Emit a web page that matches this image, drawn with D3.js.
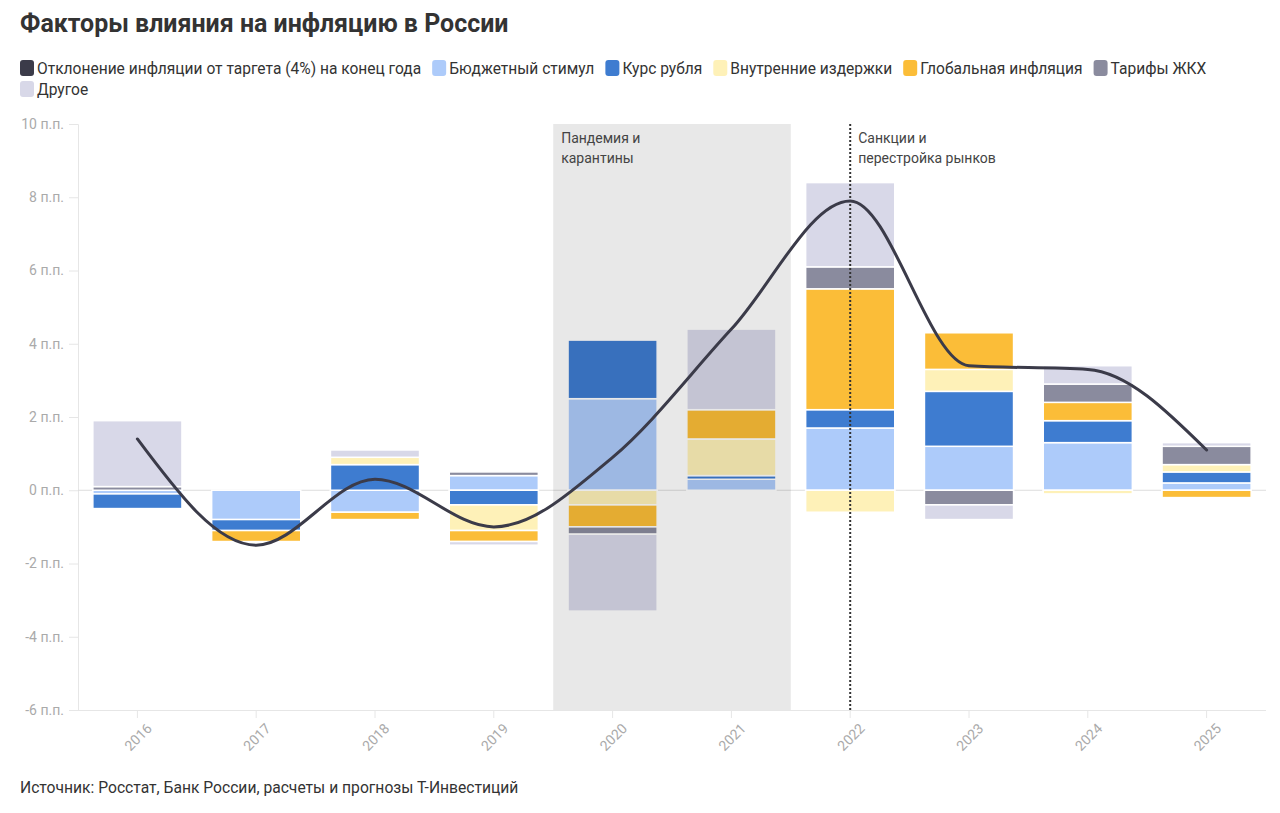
<!DOCTYPE html>
<html><head><meta charset="utf-8">
<script src="https://cdn.jsdelivr.net/npm/d3@7"></script>
<style>
body{margin:0;background:#fff;}
svg{display:block;font-family:Roboto, "Noto Sans", sans-serif;}
</style></head>
<body><svg id="c" width="1280" height="813"></svg>
<script>
const years = ['2016','2017','2018','2019','2020','2021','2022','2023','2024','2025'];
const deviation = [1.4,-1.5,0.3,-1.0,0.9,4.4,7.9,3.4,3.3,1.1];
const budget    = [-0.1,-0.8,-0.6,0.4,2.5,0.3,1.7,1.2,1.3,0.2];
const rub       = [-0.4,-0.3,0.7,-0.4,1.6,0.1,0.5,1.5,0.6,0.3];
const domestic  = [0,0,0.2,-0.7,-0.4,1.0,-0.6,0.6,-0.1,0.2];
const globalInf = [0,-0.3,-0.2,-0.3,-0.6,0.8,3.3,1.0,0.5,-0.2];
const utilities = [0.1,0,0,0.1,-0.2,0,0.6,-0.4,0.5,0.5];
const other     = [1.8,0,0.2,-0.1,-2.1,2.2,2.3,-0.4,0.5,0.1];
const yTicks = [-6,-4,-2,0,2,4,6,8,10];
const seriesNames = ['Бюджетный стимул','Курс рубля','Внутренние издержки','Глобальная инфляция','Тарифы ЖКХ','Другое'];
const seriesColors = ['#adcbfa','#3e7cd0','#fef1b8','#fbbd38','#8a8b9e','#d8d8e8'];
const lineName = 'Отклонение инфляции от таргета (4%) на конец года';
const lineColor = '#3b3b49';
const title = 'Факторы влияния на инфляцию в России';
const source = 'Источник: Росстат, Банк России, расчеты и прогнозы Т-Инвестиций';
const shadeLabel = ['Пандемия и','карантины'];
const shadeYears = ['2020','2021'];
const markLabel = ['Санкции и','перестройка рынков'];
const markYear = '2022';

const seriesValues = [budget, rub, domestic, globalInf, utilities, other];
const table = years.map((y,i)=>{const o={year:y}; seriesNames.forEach((n,j)=>o[n]=seriesValues[j][i]); return o;});

const svg = d3.select('#c');
const L=78,R=1266,T=124,B=710;
const x = d3.scaleBand().domain(years).range([L,R]).paddingInner(0.25).paddingOuter(0.125);
const y = d3.scaleLinear().domain([-6,10]).range([B,T]);

function condense(sel, f){
  const w = sel.node().getComputedTextLength();
  sel.attr('textLength', w*f).attr('lengthAdjust','spacingAndGlyphs');
  return w*f;
}

// title
const tt = svg.append('text').attr('x',20).attr('y',32).attr('font-size',26).attr('font-weight',700).attr('fill','#333').text(title);
condense(tt,0.96);

// legend
const legendItems = [{name:lineName,color:lineColor}].concat(seriesNames.map((n,i)=>({name:n,color:seriesColors[i]})));
let lx=20, ly=60;
const lg = svg.append('g');
legendItems.forEach(it=>{
  const g = lg.append('g');
  const t = g.append('text').attr('font-size',16).attr('fill','#333').text(it.name);
  const w = condense(t,0.972);
  if (lx + 17 + w > 1260) { lx = 20; ly += 21; }
  g.append('rect').attr('x',lx).attr('y',ly).attr('width',14).attr('height',16).attr('rx',3).attr('fill',it.color);
  t.attr('x',lx+17).attr('y',ly+14);
  lx += 17 + w + 11;
});

// axes
const yAxisG = svg.append('g').attr('transform',`translate(${L},0)`)
  .call(d3.axisLeft(y).tickValues(yTicks).tickSize(9).tickPadding(5).tickFormat(d=>d+' п.п.'));
yAxisG.select('.domain').attr('stroke','#e6e6e6');
yAxisG.selectAll('.tick line').attr('stroke','#e6e6e6');
yAxisG.selectAll('.tick text').attr('fill','#aaa').attr('font-size',14).attr('font-family','Roboto');

// zero line
svg.append('line').attr('x1',L).attr('x2',R).attr('y1',y(0)).attr('y2',y(0)).attr('stroke','#ddd');

const xAxisG = svg.append('g').attr('transform',`translate(0,${B})`)
  .call(d3.axisBottom(x).tickSize(8).tickPadding(4));
xAxisG.select('.domain').attr('stroke','#e6e6e6').attr('d',`M${L},0.5H${R}`);
xAxisG.selectAll('.tick line').attr('stroke','#e6e6e6');
xAxisG.selectAll('.tick text').attr('fill','#aaa').attr('font-size',14).attr('font-family','Roboto')
  .attr('text-anchor','end').attr('dx','-0.2em').attr('dy','0.9em').attr('transform','rotate(-45)');

// bars
const stack = d3.stack().keys(seriesNames).offset(d3.stackOffsetDiverging);
const stacked = stack(table);
const barsG = svg.append('g');
stacked.forEach((s,i)=>{
  barsG.selectAll(null).data(s.filter(d=>Math.abs(d[1]-d[0])>1e-9)).join('rect')
    .attr('x',d=>x(d.data.year)).attr('width',x.bandwidth())
    .attr('y',d=>y(Math.max(d[0],d[1]))).attr('height',d=>Math.abs(y(d[0])-y(d[1])))
    .attr('fill',seriesColors[i]).attr('stroke','#fff').attr('stroke-width',1.5);
});

// shade band overlay
const step = x.step();
const sx0 = x(shadeYears[0]) - step*x.paddingInner()/2;
const sx1 = x(shadeYears[1]) + x.bandwidth() + step*x.paddingInner()/2;
svg.append('rect').attr('x',sx0).attr('y',T).attr('width',sx1-sx0).attr('height',B-T)
  .attr('fill','#000').attr('fill-opacity',0.09);
shadeLabel.forEach((t,i)=>svg.append('text').attr('x',sx0+8).attr('y',T+19+i*20).attr('font-size',14).attr('fill','#444').text(t));

// marker line
const mx = x(markYear)+x.bandwidth()/2;
svg.append('line').attr('x1',mx).attr('x2',mx).attr('y1',T).attr('y2',B).attr('stroke','#333').attr('stroke-width',2).attr('stroke-dasharray','2,2');
markLabel.forEach((t,i)=>svg.append('text').attr('x',mx+8).attr('y',T+19+i*20).attr('font-size',14).attr('fill','#444').text(t));

// line
const line = d3.line().x((d,i)=>x(years[i])+x.bandwidth()/2).y(d=>y(d)).curve(d3.curveMonotoneX);
svg.append('path').attr('d',line(deviation)).attr('fill','none').attr('stroke',lineColor).attr('stroke-width',3).attr('stroke-linecap','round');

// source
const st = svg.append('text').attr('x',20).attr('y',793).attr('font-size',16).attr('fill','#333').text(source);
condense(st,0.978);
</script></body></html>
